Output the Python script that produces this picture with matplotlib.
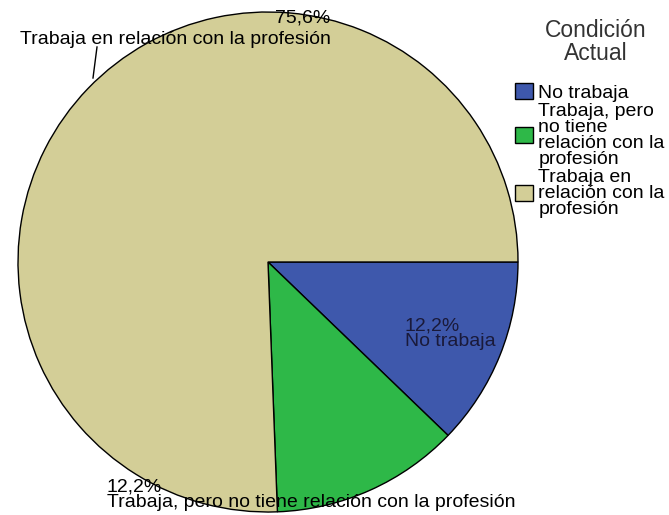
import matplotlib.pyplot as plt

plt.rcParams["font.family"] = ["Liberation Sans", "DejaVu Sans"]

categories = ["No trabaja", "Trabaja, pero\nno tiene\nrelación con la\nprofesión", "Trabaja en\nrelación con la\nprofesión"]
percent = [12.2, 12.2, 75.6]
pct_labels = ["12,2%", "12,2%", "75,6%"]
slice_names = ["No trabaja", "Trabaja, pero no tiene relación con la profesión",
               "Trabaja en relación con la profesión"]
colors = ["#3E58AC", "#2EB848", "#D3CE97"]

fig = plt.figure(figsize=(6.69, 5.15), dpi=100)
ax = fig.add_axes([18 / 669, 3 / 515, 500 / 669, 500 / 515])

wedges, _ = ax.pie(percent, colors=colors, startangle=0, counterclock=False,
                   wedgeprops={"edgecolor": "black", "linewidth": 1})
ax.set_xlim(-1, 1)
ax.set_ylim(-1, 1)
ax.set_aspect("equal")
ax.axis("off")

fs = 14
# blue slice label (inside)
ax.text(0.548, -0.222, pct_labels[0] + "\n" + slice_names[0], ha="left", va="top",
        fontsize=fs, linespacing=0.9, color="#1a1a3a")
# green slice label (below)
ax.text(-0.644, -0.865, pct_labels[1] + "\n" + slice_names[1], ha="left", va="top",
        fontsize=fs, linespacing=0.9, clip_on=False)
# beige slice label (top)
ax.text(0.25, 1.01, pct_labels[2], ha="right", va="top", fontsize=fs, clip_on=False)
ax.text(0.25, 0.925, slice_names[2], ha="right", va="top", fontsize=fs, clip_on=False)
ax.plot([-0.684, -0.70], [0.86, 0.736], color="black", linewidth=1, clip_on=False)

# legend title
fig.text(596 / 669, 1 - 42 / 515, "Condición\nActual", ha="center", va="center",
         fontsize=16.5, linespacing=0.95, color="#333333")

leg = fig.legend(wedges, categories, loc="upper left",
                 bbox_to_anchor=(515 / 669, 1 - 83 / 515), frameon=False, fontsize=fs,
                 handlelength=0.9, handleheight=0.9,
                 handletextpad=0.3, labelspacing=0.05, borderpad=0,
                 borderaxespad=0)
for t in leg.get_texts():
    t.set_linespacing(0.92)

fig.savefig("out.png", dpi=100)
